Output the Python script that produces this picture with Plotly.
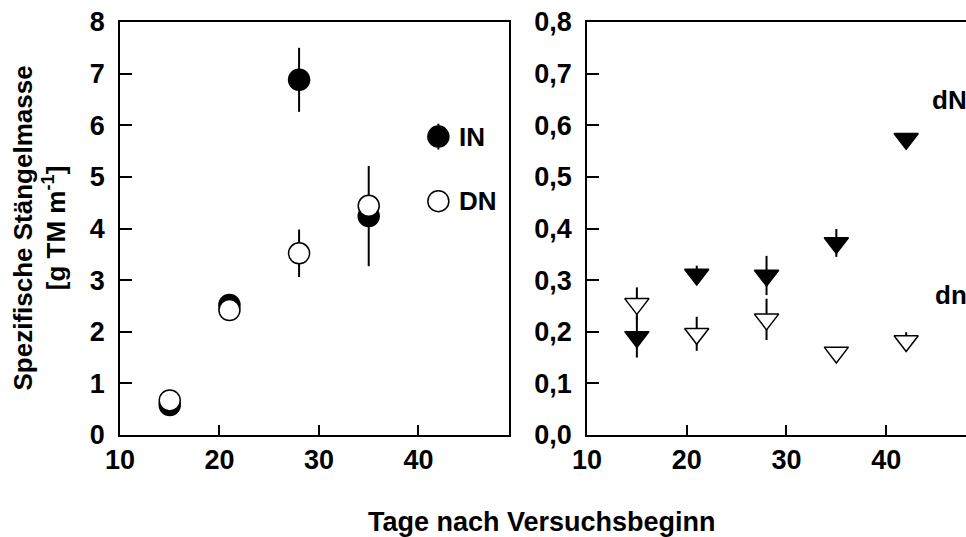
import plotly.graph_objects as go

days = [15, 21, 28, 35, 42]

# left panel: specific stem mass [g TM m-1]
IN_vals = [0.58, 2.52, 6.88, 4.24, 5.78]
IN_err = [0.0, 0.0, 0.62, 0.97, 0.25]
DN_vals = [0.67, 2.42, 3.52, 4.44, 4.53]
DN_err = [0.0, 0.0, 0.46, 0.0, 0.0]

# right panel
dN_vals = [0.19, 0.311, 0.309, 0.372, 0.574]
dN_err = [0.04, 0.017, 0.038, 0.027, 0.0]
dn_vals = [0.254, 0.196, 0.224, 0.160, 0.182]
dn_err = [0.032, 0.033, 0.04, 0.0, 0.017]

left_yticks = [0, 1, 2, 3, 4, 5, 6, 7, 8]
right_yticks = [0.0, 0.1, 0.2, 0.3, 0.4, 0.5, 0.6, 0.7, 0.8]
xticks = [10, 20, 30, 40]

W, H = 966, 537
FONT = "Liberation Sans, Arial, Helvetica, sans-serif"

fig = go.Figure()

def err(vals):
    return dict(type="data", array=vals, visible=True, color="black",
                thickness=2, width=0)

fig.add_trace(go.Scatter(x=days, y=IN_vals, mode="markers", name="IN",
                         error_y=err(IN_err), xaxis="x", yaxis="y",
                         marker=dict(symbol="circle", size=21, color="black",
                                     line=dict(color="black", width=1.5))))
fig.add_trace(go.Scatter(x=days, y=DN_vals, mode="markers", name="DN",
                         error_y=err(DN_err), xaxis="x", yaxis="y",
                         marker=dict(symbol="circle", size=21, color="white",
                                     line=dict(color="black", width=1.5))))
fig.add_trace(go.Scatter(x=days, y=dN_vals, mode="markers", name="dN",
                         error_y=err(dN_err), xaxis="x2", yaxis="y2",
                         marker=dict(symbol="triangle-down", size=21, color="black",
                                     line=dict(color="black", width=1.5))))
fig.add_trace(go.Scatter(x=days, y=dn_vals, mode="markers", name="dn",
                         error_y=err(dn_err), xaxis="x2", yaxis="y2",
                         marker=dict(symbol="triangle-down", size=21, color="white",
                                     line=dict(color="black", width=1.5))))

tickfont = dict(family=FONT, size=27, color="black", weight="bold")
ydom = [(H - 435) / H, (H - 22) / H]

axis_common = dict(showline=True, linecolor="black", linewidth=1.5,
                   ticks="inside", tickcolor="black", tickwidth=1.5,
                   showgrid=False, zeroline=False, tickfont=tickfont,
                   automargin=False)

fig.update_layout(
    width=W, height=H,
    margin=dict(l=0, r=0, t=0, b=0, pad=0, autoexpand=False),
    paper_bgcolor="white", plot_bgcolor="white",
    showlegend=False,
    separators=",.",
    xaxis=dict(domain=[120 / W, 509 / W], range=[10, 49.1], tickvals=xticks,
               ticklen=10, mirror=True, anchor="y", **axis_common),
    yaxis=dict(domain=ydom, range=[0, 8], tickvals=left_yticks,
               ticklen=12, mirror=True, anchor="x", ticklabelstandoff=8,
               **axis_common),
    xaxis2=dict(domain=[587 / W, 1.0], range=[10, 48.0], tickvals=xticks,
                ticklen=10, mirror=True, anchor="y2", **axis_common),
    yaxis2=dict(domain=ydom, range=[0, 0.8], tickvals=right_yticks,
                tickformat=".1f", ticklen=12, mirror=False, anchor="x2",
                ticklabelstandoff=8, **axis_common),
)

afont = dict(family=FONT, size=26, color="black", weight="bold")
labels = [
    ("IN", 43.87, 5.77, "x", "y"),
    ("DN", 43.87, 4.54, "x", "y"),
    ("dN", 44.4, 0.648, "x2", "y2"),
    ("dn", 44.7, 0.272, "x2", "y2"),
]
for txt, lx, ly, xr, yr in labels:
    fig.add_annotation(text=txt, x=lx, y=ly, xref=xr, yref=yr,
                       xanchor="left", yanchor="middle", showarrow=False,
                       font=afont)

fig.add_annotation(text="Tage nach Versuchsbeginn", x=542 / W, y=1 - 522 / H,
                   xref="paper", yref="paper", xanchor="center", yanchor="middle",
                   showarrow=False, font=dict(afont, size=27))
fig.add_annotation(text="Spezifische Stängelmasse<br>[g TM m<sup>-1</sup>]",
                   x=39 / W, y=1 - 228.5 / H, xref="paper", yref="paper",
                   xanchor="center", yanchor="middle", textangle=-90,
                   showarrow=False, font=afont)

fig.write_html("out.html")
